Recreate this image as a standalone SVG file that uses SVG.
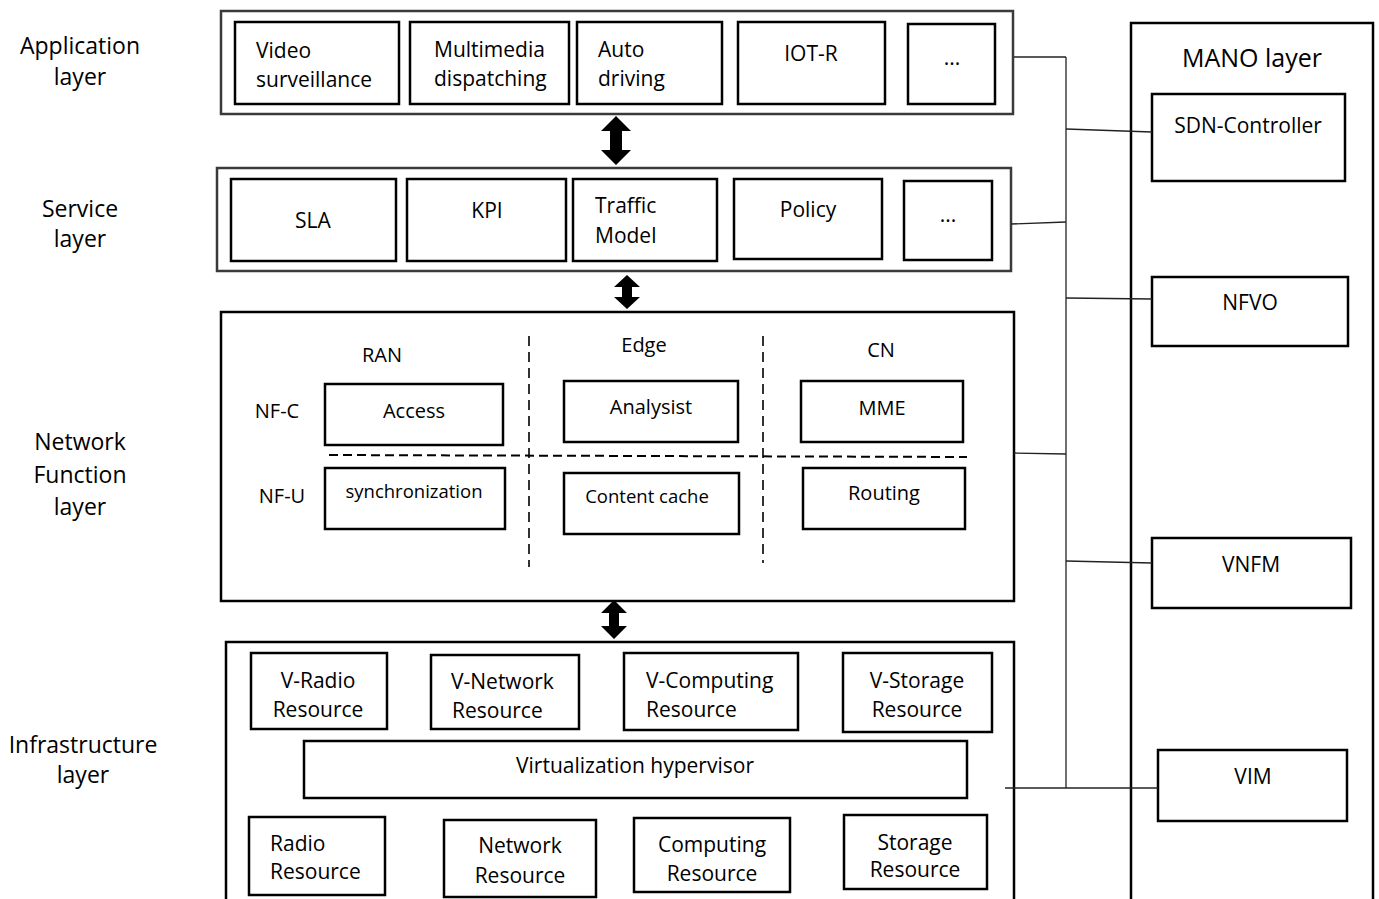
<svg xmlns="http://www.w3.org/2000/svg" width="1379" height="899" viewBox="0 0 1379 899">
<style>
text{font-family:"Open Sans","Liberation Sans",sans-serif;fill:#000;}
.lbl{font-size:23px;text-anchor:middle;}
.t{font-size:21px;}
.c{text-anchor:middle;}
.nf{font-size:20px;}
.sm{font-size:18.5px;}
.outer{fill:#fff;stroke:#3a3a3a;stroke-width:2.5;}
.box{fill:#fff;stroke:#000;stroke-width:2.5;}
.frame{fill:none;stroke:#000;stroke-width:2.5;}
.conn{fill:none;stroke:#222;stroke-width:1.3;}
.dash{fill:none;stroke:#000;stroke-width:2;stroke-dasharray:9 5;}
.vdash{fill:none;stroke:#000;stroke-width:1.6;stroke-dasharray:10 6;}
.arr{fill:#000;}
</style>
<rect width="1379" height="899" fill="#fff"/>

<g id="layer-labels">
<text class="lbl" x="80" y="54">Application</text>
<text class="lbl" x="80" y="85">layer</text>
<text class="lbl" x="80" y="217">Service</text>
<text class="lbl" x="80" y="247">layer</text>
<text class="lbl" x="80" y="450">Network</text>
<text class="lbl" x="80" y="483">Function</text>
<text class="lbl" x="80" y="515">layer</text>
<text class="lbl" x="83" y="753">Infrastructure</text>
<text class="lbl" x="83" y="783">layer</text>
</g>

<g id="application-layer">
<rect class="outer" x="221" y="11" width="792" height="103"/>
<g id="video-surveillance"><rect class="box" x="235" y="22" width="164" height="82"/>
<text class="t" x="256" y="58">Video</text><text class="t" x="256" y="87">surveillance</text></g>
<g id="multimedia-dispatching"><rect class="box" x="410" y="22" width="159" height="82"/>
<text class="t" x="434" y="57">Multimedia</text><text class="t" x="434" y="86">dispatching</text></g>
<g id="auto-driving"><rect class="box" x="577" y="22" width="145" height="82"/>
<text class="t" x="598" y="57">Auto</text><text class="t" x="598" y="86">driving</text></g>
<g id="iot-r"><rect class="box" x="738" y="22" width="147" height="82"/>
<text class="t c" x="811" y="61">IOT-R</text></g>
<g id="app-more"><rect class="box" x="908" y="24" width="87" height="80"/>
<text class="t c" x="952" y="65">...</text></g>
</g>

<g id="service-layer">
<rect class="outer" x="217" y="168" width="794" height="103"/>
<g id="sla"><rect class="box" x="231" y="179" width="165" height="82"/>
<text class="t c" x="313" y="228">SLA</text></g>
<g id="kpi"><rect class="box" x="407" y="179" width="159" height="82"/>
<text class="t c" x="487" y="218">KPI</text></g>
<g id="traffic-model"><rect class="box" x="573" y="179" width="144" height="82"/>
<text class="t" x="595" y="213">Traffic</text><text class="t" x="595" y="243">Model</text></g>
<g id="policy"><rect class="box" x="734" y="179" width="148" height="80"/>
<text class="t c" x="808" y="217">Policy</text></g>
<g id="service-more"><rect class="box" x="904" y="181" width="88" height="79"/>
<text class="t c" x="948" y="222">...</text></g>
</g>

<g id="network-function-layer">
<rect class="box" x="221" y="312" width="793" height="289"/>
<path class="vdash" d="M529,336 V567"/>
<path class="vdash" d="M763,336 V563"/>
<path class="dash" d="M329,455 L967,457"/>
<text class="nf c" x="382" y="362">RAN</text>
<text class="nf c" x="644" y="352">Edge</text>
<text class="nf c" x="881" y="357">CN</text>
<text class="nf c" x="277" y="418">NF-C</text>
<text class="nf c" x="282" y="503">NF-U</text>
<g id="access"><rect class="box" x="325" y="384" width="178" height="61"/>
<text class="nf c" x="414" y="418">Access</text></g>
<g id="analysist"><rect class="box" x="564" y="381" width="174" height="61"/>
<text class="nf c" x="651" y="414">Analysist</text></g>
<g id="mme"><rect class="box" x="801" y="381" width="162" height="61"/>
<text class="nf c" x="882" y="415">MME</text></g>
<g id="synchronization"><rect class="box" x="325" y="468" width="180" height="61"/>
<text class="sm c" x="414" y="498">synchronization</text></g>
<g id="content-cache"><rect class="box" x="564" y="473" width="175" height="61"/>
<text class="sm c" x="647" y="503">Content cache</text></g>
<g id="routing"><rect class="box" x="803" y="468" width="162" height="61"/>
<text class="nf c" x="884" y="500">Routing</text></g>
</g>

<g id="infrastructure-layer">
<rect class="frame" x="226" y="642" width="788" height="275"/>
<g id="v-radio"><rect class="box" x="251" y="653" width="136" height="76"/>
<text class="t c" x="318" y="688">V-Radio</text><text class="t c" x="318" y="717">Resource</text></g>
<g id="v-network"><rect class="box" x="431" y="655" width="148" height="74"/>
<text class="t" x="451" y="689">V-Network</text><text class="t" x="452" y="718">Resource</text></g>
<g id="v-computing"><rect class="box" x="624" y="653" width="174" height="77"/>
<text class="t" x="646" y="688">V-Computing</text><text class="t" x="646" y="717">Resource</text></g>
<g id="v-storage"><rect class="box" x="843" y="653" width="149" height="79"/>
<text class="t c" x="917" y="688">V-Storage</text><text class="t c" x="917" y="717">Resource</text></g>
<g id="virtualization-hypervisor"><rect class="box" x="304" y="741" width="663" height="57"/>
<text class="t c" x="635" y="773">Virtualization hypervisor</text></g>
<g id="radio-resource"><rect class="box" x="249" y="817" width="136" height="78"/>
<text class="t" x="270" y="851">Radio</text><text class="t" x="270" y="879">Resource</text></g>
<g id="network-resource"><rect class="box" x="444" y="820" width="152" height="77"/>
<text class="t c" x="520" y="853">Network</text><text class="t c" x="520" y="883">Resource</text></g>
<g id="computing-resource"><rect class="box" x="634" y="818" width="156" height="74"/>
<text class="t c" x="712" y="852">Computing</text><text class="t c" x="712" y="881">Resource</text></g>
<g id="storage-resource"><rect class="box" x="844" y="815" width="143" height="74"/>
<text class="t c" x="915" y="850">Storage</text><text class="t c" x="915" y="877">Resource</text></g>
</g>

<g id="mano-layer">
<rect class="frame" x="1131" y="23" width="242" height="900"/>
<text x="1252" y="67" style="font-size:25px;text-anchor:middle">MANO layer</text>
<g id="sdn-controller"><rect class="box" x="1152" y="94" width="193" height="87"/>
<text class="t c" x="1248" y="133">SDN-Controller</text></g>
<g id="nfvo"><rect class="box" x="1152" y="277" width="196" height="69"/>
<text class="t c" x="1250" y="310">NFVO</text></g>
<g id="vnfm"><rect class="box" x="1152" y="538" width="199" height="70"/>
<text class="t c" x="1251" y="572">VNFM</text></g>
<g id="vim"><rect class="box" x="1158" y="750" width="189" height="71"/>
<text class="t c" x="1253" y="784">VIM</text></g>
</g>

<g id="connectors">
<path class="conn" d="M1066,57 V788"/>
<path class="conn" d="M1014,57 H1066"/>
<path class="conn" d="M1066,129 L1152,132"/>
<path class="conn" d="M1011,224 L1066,222"/>
<path class="conn" d="M1066,298 L1152,299"/>
<path class="conn" d="M1014,453 L1066,454"/>
<path class="conn" d="M1066,561 L1152,563"/>
<path class="conn" d="M1005,788 H1158"/>
<polygon class="arr" points="616,116 631,131 622,131 622,150 631,150 616,165 601,150 610,150 610,131 601,131"/>
<polygon class="arr" points="627,275 640,287 632,287 632,297 640,297 627,309 614,297 622,297 622,287 614,287"/>
<polygon class="arr" points="614,600 627,613 619,613 619,626 627,626 614,639 601,626 609,626 609,613 601,613"/>
</g>
</svg>
